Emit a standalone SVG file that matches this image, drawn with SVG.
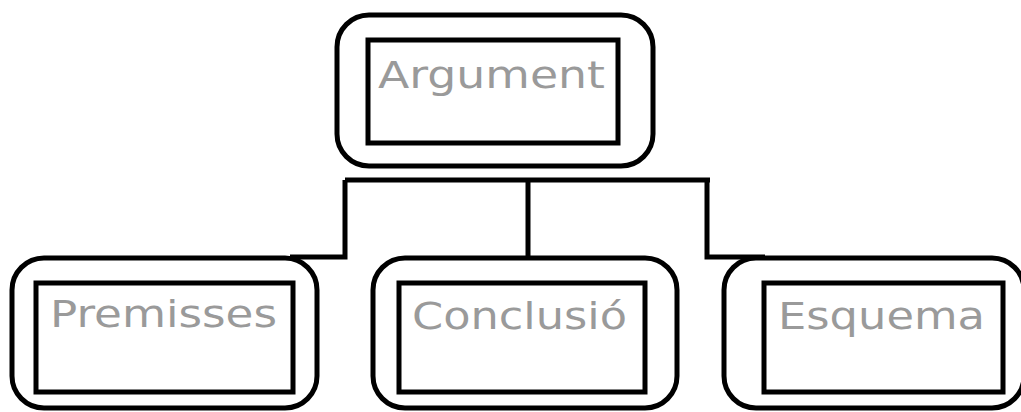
<svg xmlns="http://www.w3.org/2000/svg" width="1021" height="412" viewBox="0 0 1021 412">
<style>
.outer{fill:none;stroke:#000;stroke-width:5}
.inner{fill:none;stroke:#000;stroke-width:5}
.lbl{font-family:"DejaVu Sans",sans-serif;fill:#9a9a9a;font-size:38px}
.conn{fill:none;stroke:#000;stroke-width:5}
</style>
<rect width="1021" height="412" fill="#fff"/>
<g id="connectors">
<path class="conn" d="M345,180 H710"/>
<path class="conn" d="M345,180 V257 H290"/>
<path class="conn" d="M528,180 V257"/>
<path class="conn" d="M707,180 V257 H765"/>
</g>
<g id="argument">
<rect class="outer" x="337" y="15" width="316" height="151" rx="32"/>
<rect class="inner" x="368" y="40" width="250" height="103"/>
<text class="lbl" x="378" y="88" font-size="42" textLength="227" lengthAdjust="spacingAndGlyphs">Argument</text>
</g>
<g id="premisses">
<rect class="outer" x="12" y="258" width="305" height="150" rx="32"/>
<rect class="inner" x="36" y="283" width="257" height="109"/>
<text class="lbl" x="50" y="327" textLength="227" lengthAdjust="spacingAndGlyphs">Premisses</text>
</g>
<g id="conclusio">
<rect class="outer" x="373" y="258" width="304" height="150" rx="32"/>
<rect class="inner" x="399" y="283" width="246" height="109"/>
<text class="lbl" x="412" y="329" textLength="215" lengthAdjust="spacingAndGlyphs">Conclusió</text>
</g>
<g id="esquema">
<rect class="outer" x="724" y="258" width="300" height="150" rx="32"/>
<rect class="inner" x="764" y="283" width="239" height="109"/>
<text class="lbl" x="778" y="329" textLength="207" lengthAdjust="spacingAndGlyphs">Esquema</text>
</g>
</svg>
